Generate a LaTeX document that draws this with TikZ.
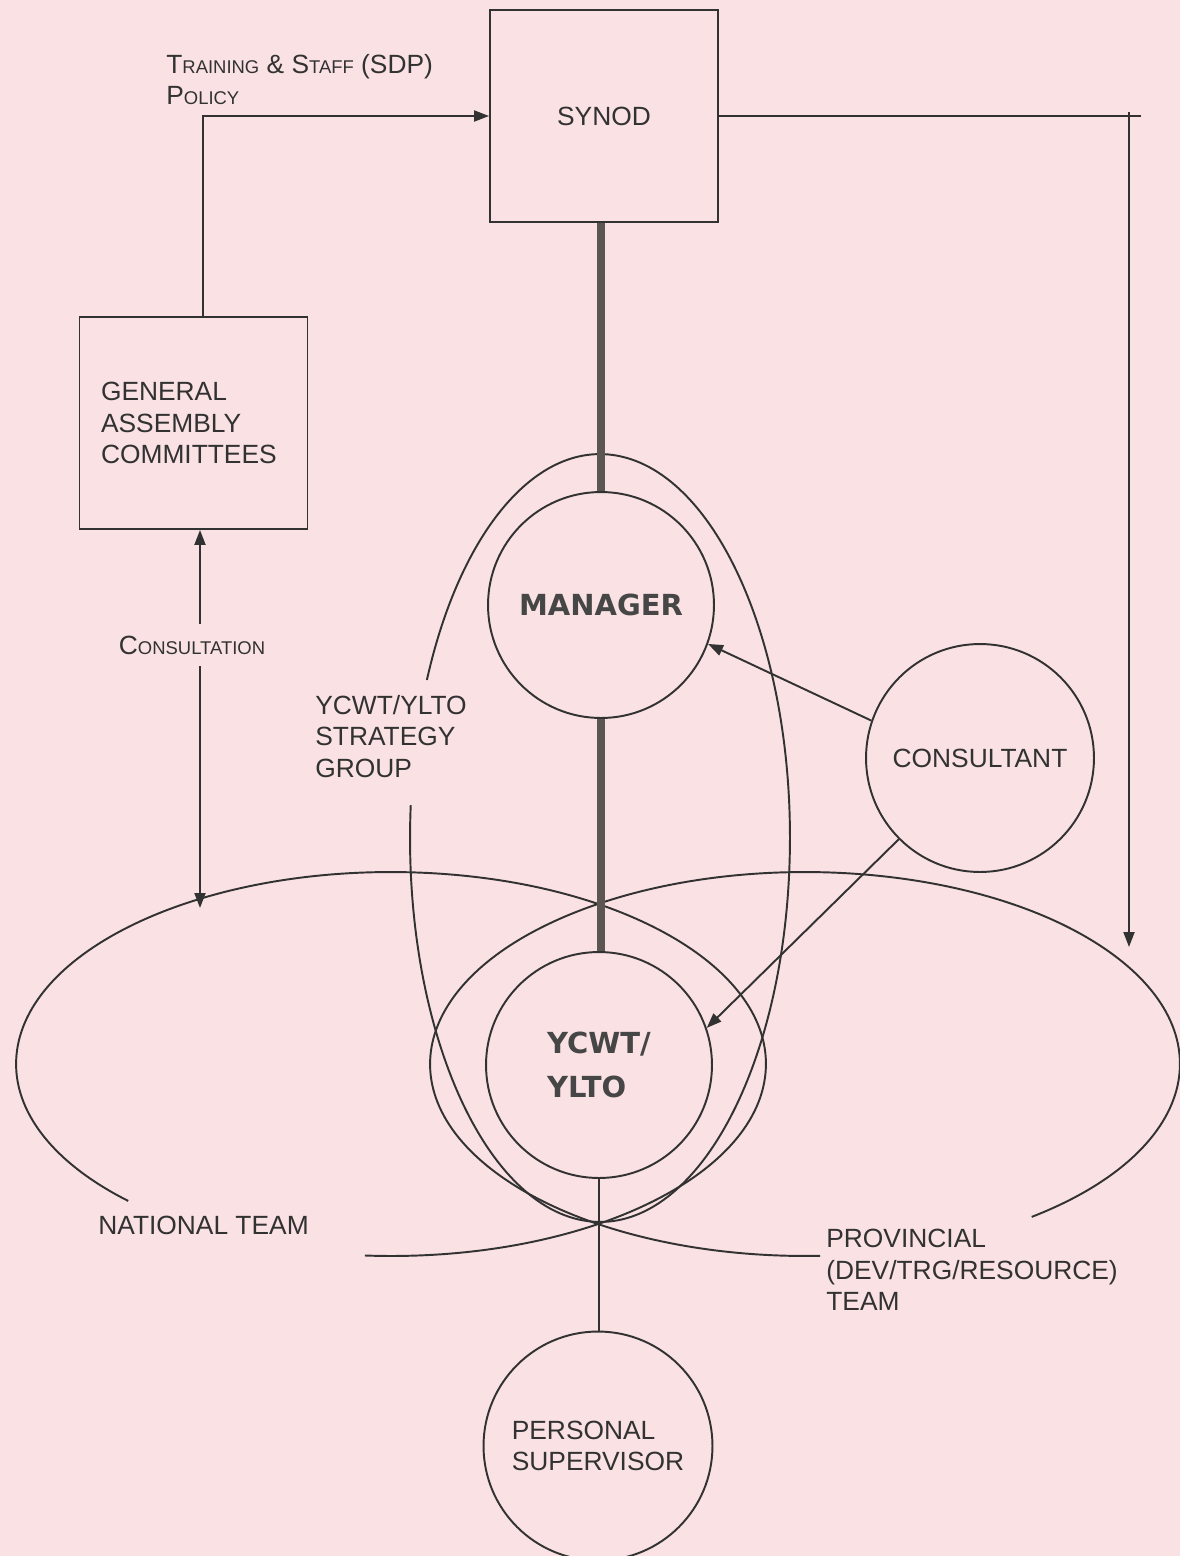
\documentclass[tikz,border=0pt]{standalone}
\usepackage{fontspec}
\setmainfont{Liberation Sans}
\newfontfamily\heavyfont{DejaVu Sans}
\usetikzlibrary{arrows.meta}

\definecolor{paper}{RGB}{250,225,227}
\definecolor{ink}{RGB}{50,50,50}
\definecolor{spine}{RGB}{92,86,82}
\newcommand{\smallcap}[2]{#1{\fontsize{10.5}{12}\selectfont #2}}

\begin{document}
\begin{tikzpicture}[
        x=0.02cm, y=0.02cm,
        >={Triangle[length=0.3cm, width=0.22cm]},
        box/.style={draw=ink, line width=1.1pt, minimum width=4.56cm, minimum height=4.24cm, inner sep=0pt},
        role/.style={draw=ink, line width=1.1pt, circle, inner sep=0pt},
        link/.style={draw=ink, line width=1.1pt},
        spineline/.style={draw=spine, line width=5pt},
        txt/.style={text=ink, font=\fontsize{15}{17.8}\selectfont, inner sep=0pt},
        heavy/.style={text=ink!90!white, font=\heavyfont\bfseries\fontsize{16.5}{25}\selectfont},
        label/.style={txt, align=left, anchor=north west}
    ]
        % Kertas
        \fill[paper] (0,0) rectangle (1180,-1556);
        \useasboundingbox (0,0) rectangle (1180,-1556);

        % Kotak atas
        \node[box, txt] (synod) at (604,-116) {SYNOD};
        \node[box, txt, align=left, text width=3.7cm] (ga) at (193.5,-423) {GENERAL\\ASSEMBLY\\COMMITTEES};

        % Lingkaran peran
        \node[role, heavy, minimum size=4.52cm] (mgr) at (601,-605) {MANAGER};
        \node[role, heavy, align=left, minimum size=4.52cm] (ycwt) at (599,-1065) {YCWT/\\YLTO};
        \node[role, txt, minimum size=4.56cm] (cons) at (980,-758) {CONSULTANT};
        \node[role, txt, align=left, minimum size=4.58cm] (pers) at (598,-1446) {PERSONAL\\SUPERVISOR};

        % Elips tim dan kelompok strategi
        \coordinate (natc) at (391,-1064);
        \coordinate (provc) at (805,-1064);
        \coordinate (stratc) at (600,-838);
        \draw[link] ([shift={(-94:7.5cm and 3.84cm)}]natc)
            arc[start angle=-94, end angle=225.5, x radius=7.5cm, y radius=3.84cm];
        \draw[link] ([shift={(-52.8:7.5cm and 3.84cm)}]provc)
            arc[start angle=-52.8, end angle=272.3, x radius=7.5cm, y radius=3.84cm];
        \draw[link] ([shift={(175.1:3.8cm and 7.68cm)}]stratc)
            arc[start angle=175.1, end angle=515.7, x radius=3.8cm, y radius=7.68cm];

        % Garis tebal jalur manajemen
        \draw[spineline] (synod.south -| mgr.north) -- (mgr.north);
        \draw[spineline] (mgr.south) -- (mgr.south |- ycwt.north);
        \draw[link] (ycwt.south) -- (ycwt.south |- pers.north);

        % Panah kebijakan dan konsultasi
        \coordinate (natarr) at (200,-908);
        \coordinate (provarr) at (1129,-947);
        \coordinate (rtop) at (1129,-116);
        \draw[link, ->] ([xshift=0.19cm]ga.north) |- (synod.west);
        \draw[link] (synod.east) -- ([xshift=0.24cm]rtop);
        \draw[link, ->] ([yshift=0.08cm]rtop) -- (provarr);
        \draw[link, <->] (ga.south -| natarr) -- (natarr);
        \node[txt, fill=paper, inner xsep=2pt, inner ysep=6.5pt] (conslbl) at (192,-645) {\smallcap{C}{ONSULTATION}};

        % Panah dari konsultan
        \draw[link, ->] (cons.161) -- (mgr.-20);
        \draw[link, ->] (cons.-135) -- (ycwt.19);

        % Label
        \node[label] (policy) at (166,-54) {\smallcap{T}{RAINING} \& \smallcap{S}{TAFF} (SDP)\\\smallcap{P}{OLICY}};
        \node[label] (stratlbl) at (315,-695) {YCWT/YLTO\\STRATEGY\\GROUP};
        \node[label] (natlbl) at (98,-1216) {NATIONAL TEAM};
        \node[label] (provlbl) at (826,-1229) {PROVINCIAL\\(DEV/TRG/RESOURCE)\\TEAM};

    \end{tikzpicture}
\end{document}
